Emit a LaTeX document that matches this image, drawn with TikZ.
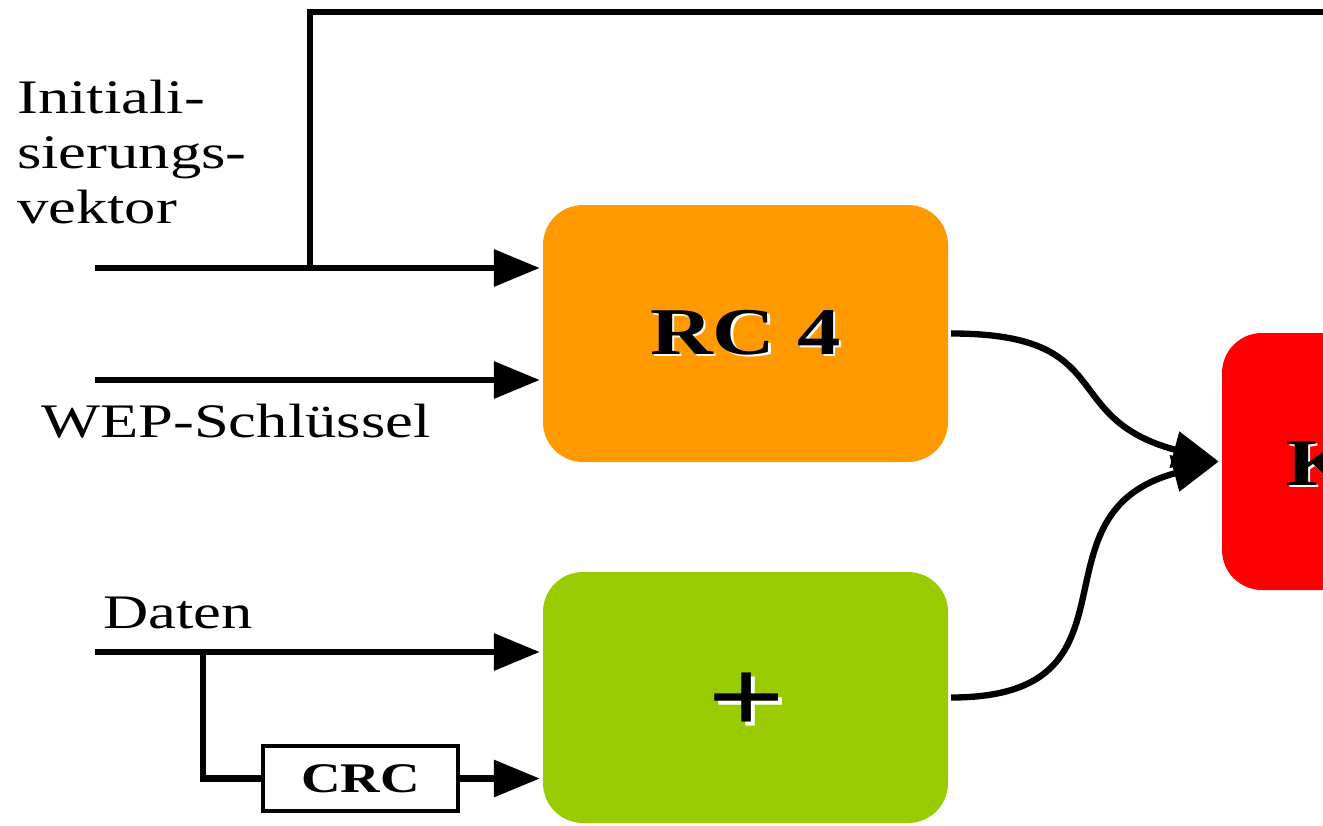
\documentclass[tikz,border=0pt]{standalone}
\usepackage{fontspec}
\setmainfont{Liberation Serif}[FakeStretch=1.3]
\usetikzlibrary{arrows.meta}

\definecolor{rcorange}{HTML}{FF9900}
\definecolor{plusgreen}{HTML}{99CC00}
\definecolor{kred}{HTML}{FF0000}

% white copy behind the black text
\newcommand{\emboss}[1]{\makebox[0pt][l]{\hspace{0.035em}\raisebox{-0.035em}{\color{white}#1}}#1}

\begin{document}
\begin{tikzpicture}[line width=1.8pt,
    >={Triangle[length=4.6mm,width=3.6mm]},
    lbl/.style={font=\fontsize{13.7}{15.7}\selectfont, inner sep=0pt}]

        \useasboundingbox (0,0) rectangle (13.23,8.25);
        \clip (0,0) rectangle (13.23,8.25);

        \begin{scope}[every node/.style={rounded corners=0.4cm,minimum width=4.05cm,
            minimum height=2.57cm,font=\fontsize{19}{22}\selectfont\bfseries}]
          \node[fill=rcorange]  (1) at (7.455,4.915) {\emboss{RC 4}};
          \node[fill=plusgreen,minimum height=2.51cm] (2) at (7.455,1.275) {};
          \node[fill=kred]      (3) at (14.245,3.635) {};
        \end{scope}

        \node[font=\fontsize{30}{30}\selectfont\bfseries] (p) at (7.47,1.20) {\emboss{+}};
        \node[font=\fontsize{19}{22}\selectfont\bfseries,anchor=base west,inner sep=0pt]
          (k) at (12.83,3.40) {\emboss{K}};
        \node[draw,line width=1pt,minimum width=1.95cm,minimum height=0.65cm,
          font=\fontsize{12}{12}\selectfont\bfseries] (4) at (3.605,0.465) {CRC};

        \node[lbl,anchor=north west,align=left] (iv) at (0.14,7.48)
          {Initiali-\\sierungs-\\vektor};
        \node[lbl,anchor=base west] (wep) at (0.38,3.88) {WEP-Schlüssel};
        \node[lbl,anchor=base west] (dat) at (1.00,1.97) {Daten};

        \coordinate (5)  at (0.95,5.57);
        \coordinate (6)  at (3.10,5.57);
        \coordinate (7)  at (13.4,8.13);
        \coordinate (8)  at (0.95,4.45);
        \coordinate (9)  at (0.95,1.73);
        \coordinate (10) at (2.03,1.73);

        \begin{scope}[every edge/.style={draw,->}]
          \path (5)  edge (1.west |- 5);
          \path (8)  edge (1.west |- 8);
          \path (9)  edge (2.west |- 9);
          \path (4)  edge (2.west |- 4);
          \path (1.east) edge[out=0,in=165,looseness=1.45] (3.west);
          \path (2.east) edge[out=0,in=195,looseness=1.45] (3.west);
        \end{scope}

        \draw (6) |- (7);
        \draw (10) |- (4.west);

      \end{tikzpicture}
\end{document}
